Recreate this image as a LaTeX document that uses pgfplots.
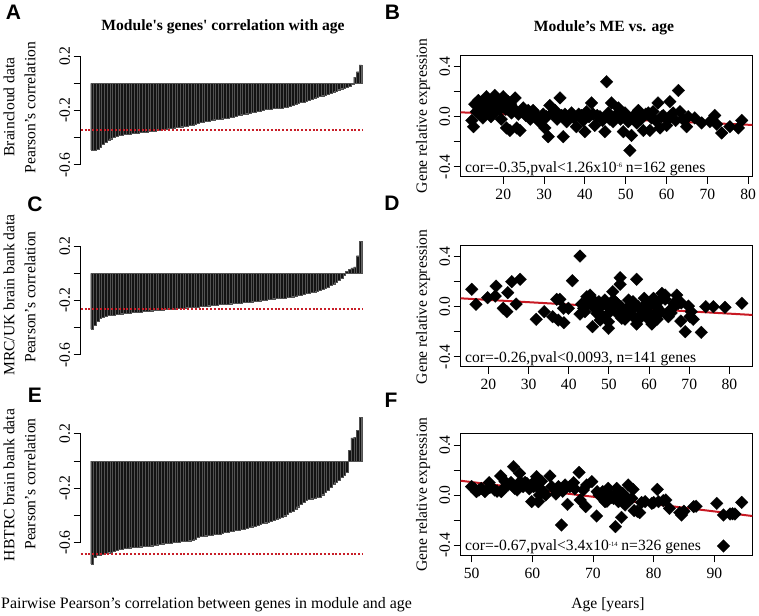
\documentclass[border=0pt]{standalone}
\usepackage{fontspec}
\setmainfont{Liberation Serif}
\newfontfamily\plainserif{Liberation Serif}
\newfontfamily\lblfont{Liberation Sans}
\usepackage{pgfplots}
\pgfplotsset{compat=1.18}
\definecolor{rline}{RGB}{200,25,35}
\definecolor{rdash}{RGB}{200,30,40}
\newcommand{\fs}{\fontsize{15.6}{18}\selectfont}
\newcommand{\sm}[1]{\raisebox{4.5pt}{\fontsize{6.5}{7}\selectfont #1}}
\newcommand{\tr}[1]{\textrm{#1}}

\pgfplotsset{
  barpanel/.style={scale only axis, width=282.4pt, height=108.8pt,
    xmin=-3.2, xmax=101, ymin=-0.6, ymax=0.2, clip=false,
    axis x line=none, axis y line*=left, xtick=\empty,
    axis line style={-, line width=0.9pt},
    tick align=outside, major tick length=7pt, tick style={line width=0.9pt, black},
    ytick={-0.6,-0.4,-0.2,0,0.2}, yticklabels={\tr{-0.6},,\tr{-0.2},,\tr{0.2}},
    yticklabel style={rotate=90, anchor=south, font=\fs}, anchor=south west},
  scpanel/.style={scale only axis, width=291.6pt, height=121.5pt,
    ymin=-0.482, ymax=0.49, axis line style={line width=0.9pt},
    tick align=outside, xtick pos=bottom, ytick pos=left,
    major tick length=7pt, tick style={line width=0.9pt, black},
    ytick={-0.4,-0.2,0,0.2,0.4}, yticklabels={\tr{-0.4},,\tr{0.0},,\tr{0.4}},
    yticklabel style={rotate=90, anchor=south, font=\fs},
    xticklabel style={font=\fs, yshift=-2pt}, anchor=south west},
  bars/.style={ybar, bar width=1, fill=black!92, draw=black!68, line width=0.22pt},
  pts/.style={only marks, mark=square*, mark size=4.5pt,
    mark options={rotate=45, fill=black, draw=black, line width=0.2pt}},
  redline/.style={rline, line width=2pt},
  reddash/.style={rdash, line width=2pt, dash pattern=on 2pt off 1.8pt},
}

\begin{document}
\begin{tikzpicture}[x=1pt,y=1pt]
\path[use as bounding box] (0,0) rectangle (759,615);

% ---------- A ----------
\begin{axis}[barpanel, at={(80.7pt,450.1pt)}]
\addplot[bars] coordinates {
(1,-0.489)(2,-0.489)(3,-0.482)(4,-0.470)(5,-0.448)(6,-0.430)(7,-0.417)(8,-0.407)(9,-0.398)(10,-0.390)
(11,-0.384)(12,-0.380)(13,-0.377)(14,-0.374)(15,-0.372)(16,-0.369)(17,-0.367)(18,-0.365)(19,-0.362)(20,-0.360)
(21,-0.357)(22,-0.355)(23,-0.352)(24,-0.349)(25,-0.346)(26,-0.342)(27,-0.340)(28,-0.337)(29,-0.334)(30,-0.331)
(31,-0.328)(32,-0.325)(33,-0.322)(34,-0.319)(35,-0.317)(36,-0.315)(37,-0.311)(38,-0.307)(39,-0.302)(40,-0.295)
(41,-0.289)(42,-0.285)(43,-0.280)(44,-0.276)(45,-0.272)(46,-0.268)(47,-0.265)(48,-0.262)(49,-0.260)(50,-0.258)
(51,-0.256)(52,-0.251)(53,-0.246)(54,-0.241)(55,-0.236)(56,-0.231)(57,-0.227)(58,-0.223)(59,-0.219)(60,-0.215)
(61,-0.211)(62,-0.207)(63,-0.203)(64,-0.198)(65,-0.193)(66,-0.190)(67,-0.188)(68,-0.186)(69,-0.185)(70,-0.183)
(71,-0.182)(72,-0.178)(73,-0.174)(74,-0.168)(75,-0.161)(76,-0.155)(77,-0.148)(78,-0.141)(79,-0.136)(80,-0.131)
(81,-0.125)(82,-0.115)(83,-0.108)(84,-0.101)(85,-0.094)(86,-0.091)(87,-0.087)(88,-0.082)(89,-0.072)(90,-0.063)
(91,-0.055)(92,-0.047)(93,-0.040)(94,-0.033)(95,-0.027)(96,-0.019)(97,-0.008)(98,0.045)(99,0.085)(100,0.135)
};
\addplot[reddash] coordinates {(-3.2,-0.345) (101,-0.345)};
\end{axis}

% ---------- C ----------
\begin{axis}[barpanel, at={(80.7pt,260.1pt)}]
\addplot[bars] coordinates {
(1,-0.411)(2,-0.380)(3,-0.350)(4,-0.331)(5,-0.322)(6,-0.315)(7,-0.311)(8,-0.308)(9,-0.306)(10,-0.302)
(11,-0.299)(12,-0.297)(13,-0.295)(14,-0.293)(15,-0.291)(16,-0.289)(17,-0.287)(18,-0.285)(19,-0.283)(20,-0.281)
(21,-0.279)(22,-0.277)(23,-0.275)(24,-0.273)(25,-0.271)(26,-0.269)(27,-0.267)(28,-0.265)(29,-0.263)(30,-0.262)
(31,-0.261)(32,-0.259)(33,-0.257)(34,-0.256)(35,-0.254)(36,-0.253)(37,-0.251)(38,-0.249)(39,-0.248)(40,-0.246)
(41,-0.244)(42,-0.242)(43,-0.240)(44,-0.238)(45,-0.236)(46,-0.234)(47,-0.232)(48,-0.230)(49,-0.228)(50,-0.226)
(51,-0.224)(52,-0.223)(53,-0.221)(54,-0.220)(55,-0.219)(56,-0.217)(57,-0.215)(58,-0.213)(59,-0.211)(60,-0.209)
(61,-0.207)(62,-0.204)(63,-0.201)(64,-0.198)(65,-0.195)(66,-0.192)(67,-0.189)(68,-0.187)(69,-0.185)(70,-0.184)
(71,-0.182)(72,-0.180)(73,-0.177)(74,-0.174)(75,-0.172)(76,-0.168)(77,-0.163)(78,-0.158)(79,-0.154)(80,-0.149)
(81,-0.144)(82,-0.140)(83,-0.136)(84,-0.130)(85,-0.124)(86,-0.117)(87,-0.111)(88,-0.102)(89,-0.090)(90,-0.078)
(91,-0.066)(92,-0.053)(93,-0.033)(94,-0.015)(95,0.015)(96,0.030)(97,0.040)(98,0.047)(99,0.130)(100,0.235)
};
\addplot[reddash] coordinates {(-3.2,-0.262) (101,-0.262)};
\end{axis}

% ---------- E ----------
\begin{axis}[barpanel, at={(80.7pt,72.4pt)}]
\addplot[bars] coordinates {
(1,-0.756)(2,-0.705)(3,-0.695)(4,-0.689)(5,-0.684)(6,-0.679)(7,-0.674)(8,-0.668)(9,-0.662)(10,-0.656)
(11,-0.651)(12,-0.647)(13,-0.643)(14,-0.640)(15,-0.637)(16,-0.635)(17,-0.633)(18,-0.631)(19,-0.630)(20,-0.628)
(21,-0.626)(22,-0.625)(23,-0.623)(24,-0.619)(25,-0.615)(26,-0.611)(27,-0.608)(28,-0.606)(29,-0.604)(30,-0.602)
(31,-0.600)(32,-0.597)(33,-0.594)(34,-0.592)(35,-0.590)(36,-0.588)(37,-0.586)(38,-0.584)(39,-0.575)(40,-0.563)
(41,-0.554)(42,-0.551)(43,-0.549)(44,-0.547)(45,-0.544)(46,-0.541)(47,-0.538)(48,-0.535)(49,-0.531)(50,-0.526)
(51,-0.523)(52,-0.519)(53,-0.515)(54,-0.511)(55,-0.507)(56,-0.503)(57,-0.499)(58,-0.494)(59,-0.489)(60,-0.483)
(61,-0.478)(62,-0.472)(63,-0.466)(64,-0.460)(65,-0.453)(66,-0.447)(67,-0.441)(68,-0.436)(69,-0.428)(70,-0.420)
(71,-0.411)(72,-0.402)(73,-0.391)(74,-0.379)(75,-0.367)(76,-0.352)(77,-0.336)(78,-0.318)(79,-0.300)(80,-0.287)
(81,-0.281)(82,-0.277)(83,-0.273)(84,-0.268)(85,-0.263)(86,-0.248)(87,-0.230)(88,-0.212)(89,-0.195)(90,-0.172)
(91,-0.155)(92,-0.140)(93,-0.122)(94,-0.103)(95,-0.080)(96,0.080)(97,0.170)(98,0.175)(99,0.225)(100,0.320)
};
\addplot[reddash] coordinates {(-3.2,-0.682) (101,-0.682)};
\end{axis}

% ---------- B ----------
\begin{axis}[scpanel, at={(460.7pt,438.05pt)}, xmin=9.57, xmax=81.0,
  xtick={20,30,40,50,60,70,80}, xticklabels={\tr{20},\tr{30},\tr{40},\tr{50},\tr{60},\tr{70},\tr{80}}]
\addplot[pts] coordinates {
(12.7,-0.08)(12.3,-0.03)(13,0.1)(13.4,0.04)(13.9,0.13)(14.2,0.02)(14.7,0.07)(15,-0.01)(15.3,0.09)(15.9,0.16)
(16.2,0.05)(16.7,0.11)(17,0.0)(17.4,0.08)(17.9,0.17)(18.2,0.04)(18.5,0.12)(18.8,0.13)(19.2,0.06)(19.5,-0.02)
(20,0.16)(20.3,0.09)(20.8,-0.09)(21.2,0.12)(21.6,-0.11)(22,0.03)(22.4,0.07)(22.9,0.15)(23.3,-0.09)(23.7,0.02)
(24.1,-0.11)(24.5,0.04)(24.9,0.07)(25.5,0.01)(26.1,0.05)(26.6,-0.02)(27.3,0.05)(27.8,0.02)(28.2,0.01)(28.8,-0.04)
(29.4,-0.03)(29.8,0.02)(30.2,-0.09)(30.6,0.0)(31,-0.16)(31.4,0.09)(32,0.03)(32.7,0.05)(33.2,-0.02)(33.9,0.15)
(34.3,0.01)(34.7,-0.16)(35.1,0.02)(35.5,-0.04)(36.1,0.0)(36.7,0.03)(37.3,-0.01)(37.9,-0.08)(38.5,0.02)(39.2,0.01)
(39.6,-0.03)(40,-0.12)(40.4,0.04)(41,0.0)(41.6,0.11)(42,0.02)(42.4,-0.07)(43,0.01)(43.7,0.0)(44.3,-0.03)
(44.9,-0.12)(45.3,0.28)(45.7,0.03)(46.1,-0.02)(46.5,0.11)(46.9,-0.04)(47.5,0.01)(48.2,0.07)(48.7,-0.02)(49.4,-0.12)
(49.8,0.03)(50.2,0.0)(50.6,-0.04)(51,-0.27)(51.4,-0.15)(52,0.01)(52.7,-0.05)(53.1,0.05)(53.7,-0.02)(54.3,-0.11)
(54.9,0.02)(55.5,0.03)(55.9,-0.11)(56.3,-0.01)(56.7,0.04)(57.3,-0.03)(57.9,0.11)(58.4,-0.09)(58.8,0.0)(59.2,0.01)
(60,-0.07)(60.4,-0.02)(60.8,0.12)(61.6,0.03)(62.2,-0.03)(62.9,0.21)(63.3,0.04)(64,-0.02)(64.9,-0.08)(65.3,0.0)
(66.9,-0.01)(68.6,-0.05)(70.6,-0.04)(71.8,0.01)(72.3,-0.06)(73.5,-0.13)(75.5,-0.08)(77.6,-0.09)(78.4,-0.03)
(14.5,0.11)(16,0.13)(17.6,0.14)(19,0.09)(20.6,0.06)(21.8,0.1)(15.6,0.03)(18,0.07)
};
\addplot[redline] coordinates {(9.57,0.035) (81.0,-0.066)};
\node[anchor=base west, font=\fs, inner sep=0pt] at ([xshift=4.3pt,yshift=4.5pt]rel axis cs:0,0)
  {cor=-0.35,pval<1.26x10\sm{-6} n=162 genes};
\end{axis}

% ---------- D ----------
\begin{axis}[scpanel, at={(460.7pt,248.05pt)}, xmin=13.1, xmax=85.7,
  xtick={20,30,40,50,60,70,80}, xticklabels={\tr{20},\tr{30},\tr{40},\tr{50},\tr{60},\tr{70},\tr{80}}]
\addplot[pts] coordinates {
(15.85,0.139)(16.9,0.019)(19.8,0.072)(21.9,0.165)(21.7,0.085)(23.7,-0.013)(24.8,0.112)(24.6,-0.04)(25.8,0.2)(26.9,0.021)
(27.9,0.219)(31.9,-0.101)(33.9,-0.04)(36,-0.08)(37,0.059)(37.8,0.059)(37.4,-0.107)(38.8,-0.128)(38.7,-0.013)(39.9,-0.013)
(40.9,0.208)(42.8,0.405)(42.8,-0.059)(43.7,-0.013)(44.5,0.08)(44.9,0.027)(45.3,0.093)(45.9,-0.16)(46.5,0.04)(47,-0.053)
(47.8,-0.107)(48,0)(49,0.053)(49.9,-0.173)(49.9,-0.12)(50.3,-0.04)(50.95,0.12)(51.1,0.053)(52,0.027)(52.8,0.232)
(52.8,0.179)(53.2,-0.093)(53.6,-0.027)(54.4,-0.067)(54.9,0.053)(55.3,0.013)(55.7,-0.027)(56.1,-0.08)(56.9,0.219)(56.9,-0.139)
(57.3,0)(58.2,-0.053)(58.8,0.067)(59.4,-0.013)(60.1,0.027)(60.7,-0.139)(61.1,0.067)(61.5,-0.053)(61.9,0)(62.7,0.053)
(63.2,0.107)(64,0.093)(64.8,-0.08)(65.2,-0.027)(66.1,0.027)(66.9,0.093)(67.3,0.027)(67.9,-0.115)(69,-0.2)(69.8,0.005)
(70.2,-0.08)(71,-0.101)(73,-0.205)(74.1,0)(76,0)(78.9,-0.005)(83.1,0.027)
(43.2,0.02)(44,-0.04)(45,0.06)(46,0.0)(47.5,0.04)(48.5,-0.08)(49.5,0.01)(50.5,-0.02)(51.5,0.04)(52.3,-0.06)
(53,0.0)(54,-0.1)(55,-0.06)(56,0.04)(57.5,-0.1)(58.5,0.0)(59.5,-0.09)(60.3,-0.06)(61,0.03)(62,-0.1)
(63,-0.04)(64,0.06)(65.5,-0.05)(66.5,0.01)(68,0.03)(70.5,-0.04)
};
\addplot[redline] coordinates {(13.1,0.067) (85.7,-0.066)};
\node[anchor=base west, font=\fs, inner sep=0pt] at ([xshift=4.3pt,yshift=4.5pt]rel axis cs:0,0)
  {cor=-0.26,pval<0.0093, n=141 genes};
\end{axis}

% ---------- F ----------
\begin{axis}[scpanel, at={(460.7pt,59.75pt)}, xmin=48.2, xmax=96.26,
  xtick={50,60,70,80,90}, xticklabels={\tr{50},\tr{60},\tr{70},\tr{80},\tr{90}}]
\addplot[pts] coordinates {
(50,0.067)(50.8,0.027)(51.6,0.053)(52.2,0.027)(52.9,0.099)(53.8,0.04)(54.8,0.152)(54.9,0.027)(55.5,0.107)(56,0.08)
(56.9,0.227)(57.1,0.053)(57.9,0.173)(58,0.107)(58.5,0.067)(59.1,0.093)(59.9,-0.053)(60.2,0.067)(60.7,0.147)(61,-0.053)
(61.2,0)(60.4,0.107)(62.9,0.152)(63.2,0.067)(63.9,0.008)(64.3,0.067)(64.8,-0.24)(65.4,0.08)(65.8,-0.075)(66.2,0.067)
(66.8,0.099)(67.7,0.181)(67.9,-0.04)(68.4,0.04)(68.8,-0.093)(68.96,0.08)(69.8,0.107)(70.6,-0.168)(70.7,0.027)(71.6,0.027)
(72,-0.053)(72.5,0.053)(72.8,0)(73.4,-0.027)(73.7,-0.253)(73.9,0.053)(74.2,-0.053)(74.7,-0.179)(74.9,0.013)(75.3,-0.08)
(75.8,0.08)(76.4,-0.027)(76.6,0.045)(76.8,-0.125)(77.7,-0.141)(78.6,-0.053)(79.7,-0.067)(80.6,0.045)(80.8,-0.053)(81.6,-0.045)
(82.6,-0.107)(84.3,-0.141)(84.6,-0.16)(86.6,-0.093)(90.4,-0.067)(91.5,-0.16)(92.6,-0.152)(93.4,-0.152)(91.5,-0.408)(94.5,-0.059)
(50.5,0.05)(51.2,0.04)(53,0.06)(54.2,0.03)(55.2,0.05)(56.5,0.1)(57.5,0.04)(58.8,0.1)(59.5,0.05)(60,0.09)
(60.9,0.06)(61.5,0.11)(61.8,0.03)(62.2,0.0)(64,0.04)(65,0.03)(67,0.05)(71,0.0)(71.9,-0.03)(72.3,-0.05)
(73,-0.02)(73.6,0.0)(74.4,-0.03)(75,-0.06)(75.5,-0.02)(76,-0.04)(77.3,-0.13)(78,-0.06)(80,-0.06)(82,-0.04)
(85,-0.13)(87,-0.09)(93,-0.15)
};
\addplot[redline] coordinates {(48.2,0.114) (96.26,-0.168)};
\node[anchor=base west, font=\fs, inner sep=0pt] at ([xshift=4.3pt,yshift=4.5pt]rel axis cs:0,0)
  {cor=-0.67,pval<3.4x10\sm{-14} n=326 genes};
\end{axis}

% ---------- texts ----------
\node[font=\plainserif\bfseries\fs] at (223,588) {Module's genes' correlation with age};
\node[font=\bfseries\fs] at (604,587) {Module’s ME vs. age};

\node[rotate=90, font=\fs] at (9,508) {Braincloud data};
\node[rotate=90, font=\fs] at (30,507.5) {Pearson’s correlation};
\node[rotate=90, font=\fs] at (9,320) {MRC/UK brain bank data};
\node[rotate=90, font=\fs] at (30,318) {Pearson’s correlation};
\node[rotate=90, font=\fs] at (9,130) {HBTRC brain bank data};
\node[rotate=90, font=\fs] at (30,131) {Pearson’s correlation};

\node[rotate=90, font=\fs] at (423,499) {Gene relative expression};
\node[rotate=90, font=\fs] at (423,308) {Gene relative expression};
\node[rotate=90, font=\fs] at (423,120.5) {Gene relative expression};

\node[font=\fontsize{15.9}{18}\selectfont] at (206.5,10) {Pairwise Pearson’s correlation between genes in module and age};
\node[font=\fs] at (608,10) {Age [years]};

\node[font=\lblfont\bfseries\fontsize{21}{21}\selectfont, inner sep=0pt] at (13.5,602.5) {A};
\node[font=\lblfont\bfseries\fontsize{21}{21}\selectfont, inner sep=0pt] at (392.5,602.5) {B};
\node[font=\lblfont\bfseries\fontsize{21}{21}\selectfont, inner sep=0pt] at (35,411) {C};
\node[font=\lblfont\bfseries\fontsize{21}{21}\selectfont, inner sep=0pt] at (392,412) {D};
\node[font=\lblfont\bfseries\fontsize{21}{21}\selectfont, inner sep=0pt] at (35,219.5) {E};
\node[font=\lblfont\bfseries\fontsize{21}{21}\selectfont, inner sep=0pt] at (391,215) {F};
\end{tikzpicture}
\end{document}
